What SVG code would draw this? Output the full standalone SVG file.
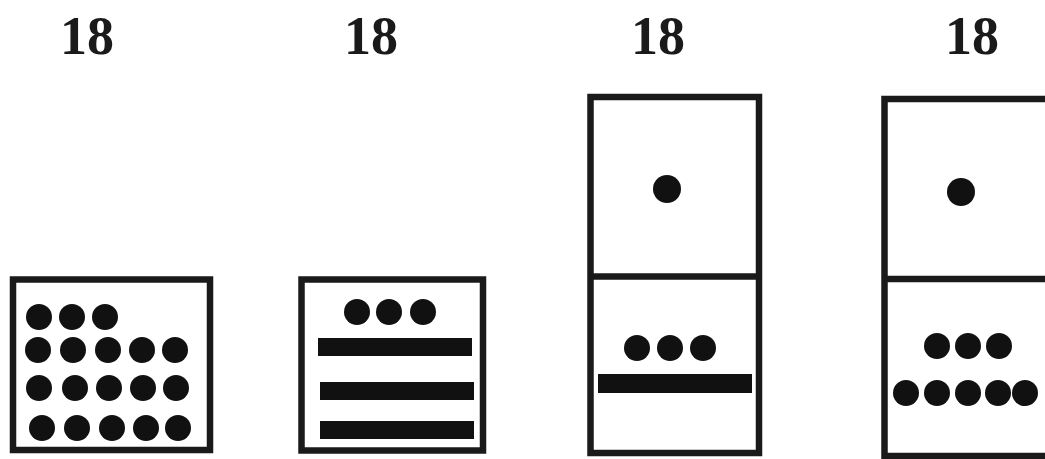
<svg xmlns="http://www.w3.org/2000/svg" width="1045" height="459" viewBox="0 0 1045 459">
<style>
.box{fill:none;stroke:#1a1a1a;stroke-width:6.5}
.d{fill:#111}
.lbl{font-family:"Liberation Serif","Times New Roman",serif;font-weight:bold;font-size:54px;fill:#1a1a1a;text-anchor:middle}
</style>
<rect width="1045" height="459" fill="#fff"/>
<g id="n1">
<text class="lbl" x="87" y="54">18</text>
<rect class="box" x="13" y="279.5" width="197" height="170.5"/>
<g class="d">
<circle cx="39" cy="317" r="13"/><circle cx="72" cy="317" r="13"/><circle cx="105" cy="317" r="13"/>
<circle cx="38" cy="350" r="13"/><circle cx="73" cy="350" r="13"/><circle cx="108" cy="350" r="13"/><circle cx="142" cy="350" r="13"/><circle cx="175" cy="350" r="13"/>
<circle cx="39" cy="388" r="13"/><circle cx="75" cy="388" r="13"/><circle cx="109" cy="388" r="13"/><circle cx="143" cy="388" r="13"/><circle cx="176" cy="388" r="13"/>
<circle cx="42" cy="428" r="13"/><circle cx="77" cy="428" r="13"/><circle cx="112" cy="428" r="13"/><circle cx="146" cy="428" r="13"/><circle cx="178" cy="428" r="13"/>
</g>
</g>
<g id="n2">
<text class="lbl" x="371" y="54">18</text>
<rect class="box" x="301.5" y="279.5" width="181.5" height="171"/>
<g class="d">
<circle cx="357" cy="312" r="13"/><circle cx="389" cy="312" r="13"/><circle cx="423" cy="312" r="13"/>
<rect x="318" y="338" width="154" height="18"/>
<rect x="320" y="382" width="154" height="18"/>
<rect x="320" y="421" width="154" height="18"/>
</g>
</g>
<g id="n3">
<text class="lbl" x="658" y="54">18</text>
<rect class="box" x="590.5" y="97" width="168.5" height="356"/>
<line class="box" x1="590.5" y1="276.5" x2="759" y2="276.5"/>
<g class="d">
<circle cx="667" cy="189" r="14"/>
<circle cx="637" cy="348" r="13"/><circle cx="670" cy="348" r="13"/><circle cx="703" cy="348" r="13"/>
<rect x="598" y="374" width="154" height="19"/>
</g>
</g>
<g id="n4">
<text class="lbl" x="972" y="54">18</text>
<rect class="box" x="884.5" y="99" width="200" height="357"/>
<line class="box" x1="884.5" y1="279" x2="1050" y2="279"/>
<g class="d">
<circle cx="961" cy="192" r="14"/>
<circle cx="937" cy="346" r="13"/><circle cx="968" cy="346" r="13"/><circle cx="999" cy="346" r="13"/>
<circle cx="906" cy="393" r="13"/><circle cx="937" cy="393" r="13"/><circle cx="968" cy="393" r="13"/><circle cx="998" cy="393" r="13"/><circle cx="1025" cy="393" r="13"/>
</g>
</g>
<g id="connectors"/>
</svg>
